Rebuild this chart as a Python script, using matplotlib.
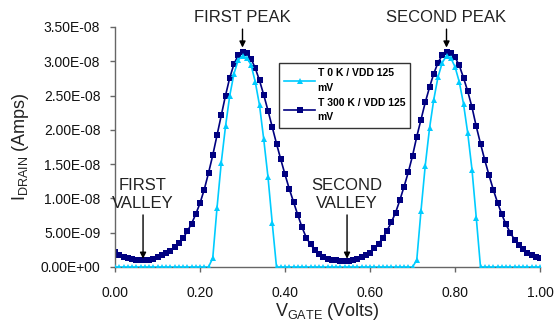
import matplotlib
matplotlib.use("Agg")
import matplotlib.pyplot as plt
import numpy as np

plt.rcParams['font.family'] = ['Liberation Sans', 'DejaVu Sans']

# V_GATE values (Volts), step 0.01
vgate = [round(i * 0.01, 2) for i in range(101)]

# Drain current, T = 0 K (units of 1e-8 A)
i_0k = [0.0] * 23 + [
    0.13, 0.86, 1.52, 2.05, 2.50, 2.82, 3.02, 3.08, 3.05, 2.95,
    2.70, 2.36, 1.86, 1.31, 0.64,
] + [0.0] * 33 + [
    0.10, 0.82, 1.48, 2.02, 2.44, 2.77, 2.98, 3.08, 3.05, 2.92,
    2.70, 2.38, 1.95, 1.42, 0.72,
] + [0.0] * 15

# Drain current, T = 300 K (units of 1e-8 A)
i_300k = [
    0.22, 0.18, 0.15, 0.13, 0.115, 0.105, 0.10, 0.10, 0.105, 0.12,
    0.14, 0.17, 0.20, 0.24, 0.29, 0.35, 0.42, 0.52, 0.63, 0.77,
    0.93, 1.13, 1.37, 1.63, 1.92, 2.21, 2.50, 2.76, 2.96, 3.09,
    3.14, 3.12, 3.04, 2.90, 2.72, 2.51, 2.28, 2.04, 1.80, 1.57,
    1.35, 1.14, 0.95, 0.76, 0.58, 0.43, 0.33, 0.25, 0.19, 0.15,
    0.12, 0.105, 0.095, 0.09, 0.09, 0.09, 0.10, 0.115, 0.14, 0.17,
    0.21, 0.27, 0.34, 0.42, 0.53, 0.65, 0.79, 0.97, 1.17, 1.38,
    1.62, 1.90, 2.15, 2.40, 2.62, 2.82, 2.98, 3.09, 3.14, 3.12,
    3.06, 2.94, 2.76, 2.56, 2.33, 2.05, 1.80, 1.56, 1.34, 1.13,
    0.94, 0.77, 0.62, 0.50, 0.40, 0.32, 0.26, 0.21, 0.18, 0.15,
    0.13,
]
scale = 1e-8

label_0k = "T 0 K / VDD 125\nmV"
label_300k = "T 300 K / VDD 125\nmV"

yticks = [0, 0.5e-8, 1.0e-8, 1.5e-8, 2.0e-8, 2.5e-8, 3.0e-8, 3.5e-8]
xticks = [0.0, 0.2, 0.4, 0.6, 0.8, 1.0]

light = '#00CCFF'
dark = '#000080'
txt = '#222222'

fig = plt.figure(figsize=(5.56, 3.24), dpi=100)
ax = fig.add_axes([115/556, 57/324, 425/556, 240/324])

ax.plot(vgate, np.array(i_0k) * scale, color=light, lw=1.2, marker='^',
        markersize=4.5, markeredgewidth=0, label=label_0k, zorder=3)
ax.plot(vgate, np.array(i_300k) * scale, color=dark, lw=1.2, marker='s',
        markersize=4.6, markeredgewidth=0, label=label_300k, zorder=2)

ax.set_xlim(0, 1.0)
ax.set_ylim(0, 3.5e-8)
ax.set_xticks(xticks)
ax.set_yticks(yticks)
ax.set_xticklabels([f"{v:.2f}" for v in xticks])
ax.set_yticklabels([("%.2E" % v) for v in yticks])

for s in ['top', 'right']:
    ax.spines[s].set_visible(False)
for s in ['left', 'bottom']:
    ax.spines[s].set_color('#666666')
    ax.spines[s].set_linewidth(1.0)
ax.tick_params(axis='both', direction='out', length=3.6, width=1.0,
               color='#666666', labelsize=10, labelcolor='#111111')
ax.tick_params(axis='y', pad=7)
ax.tick_params(axis='x', pad=10)

ax.set_xlabel(r"V$_{\mathregular{GATE}}$ (Volts)", fontsize=13, color=txt, labelpad=1)
ax.set_ylabel(r"I$_{\mathregular{DRAIN}}$ (Amps)", fontsize=13, color=txt, labelpad=7)

def ann(text, x, y_tip, y_text):
    ax.annotate(text, xy=(x, y_tip), xytext=(x, y_text),
                ha='center', va='bottom', fontsize=12, color=txt,
                annotation_clip=False,
                arrowprops=dict(arrowstyle='-|>', color='black', lw=1.0,
                                mutation_scale=9, shrinkA=1, shrinkB=0))

ann("FIRST PEAK", 0.30, 3.20e-8, 3.53e-8)
ann("SECOND PEAK", 0.78, 3.20e-8, 3.53e-8)
ann("FIRST\nVALLEY", 0.066, 0.12e-8, 0.82e-8)
ann("SECOND\nVALLEY", 0.546, 0.12e-8, 0.82e-8)

leg = ax.legend(loc='upper left', bbox_to_anchor=(164/425, (267-63)/240),
                frameon=True, fancybox=False, edgecolor='black',
                prop={'weight': 'bold', 'size': 7.5}, handlelength=3.0,
                handletextpad=0.2, borderpad=0.5, labelspacing=0.45,
                borderaxespad=0)
for t in leg.get_texts():
    t.set_linespacing(1.6)
leg.get_frame().set_linewidth(1.0)

fig.savefig("out.png", dpi=100)
